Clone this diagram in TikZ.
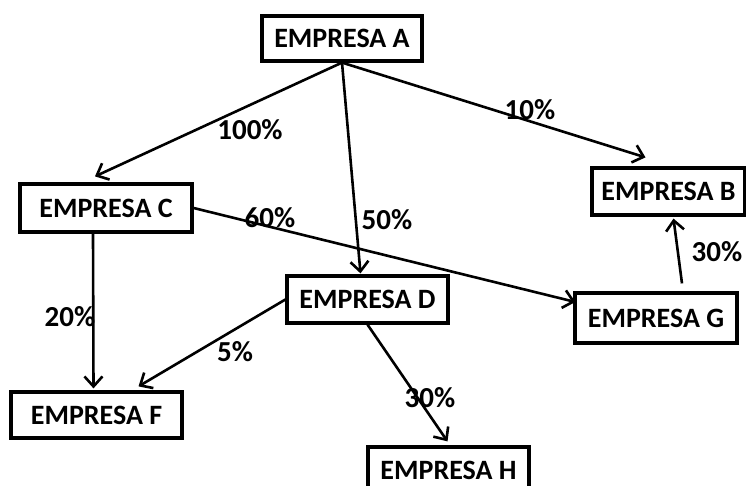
\documentclass[tikz,border=0pt]{standalone}
\usepackage{fontspec}
\setmainfont{Carlito}
\usetikzlibrary{arrows.meta,positioning}

\begin{document}
\begin{tikzpicture}[x=0.5pt,y=-0.5pt]
  % Define styles for companies and links
  \tikzset{
    empresa/.style={
      draw,
      rectangle,
      fill=white,
      inner sep=0pt,
      line width=1.6pt,
      font=\fontsize{14}{16}\selectfont\bfseries
    },
    link/.style={
      draw,
      line width=1.3pt,
      -{Straight Barb[length=5pt, width=9pt]}
    },
    pct/.style={
      inner sep=0pt,
      font=\fontsize{14.5}{16}\selectfont\bfseries
    }
  }
  \useasboundingbox (0,0) rectangle (746,486);

  % Companies: name / x / y / width / height / letter
  \foreach \nm/\x/\y/\bw/\bh/\lt in {a/342/38.5/80/22.5/A, c/106/208/86/24/C,
      b/668.5/191.5/76.5/23.5/B, g/656/318/81/25/G, d/367.5/299.5/80.5/23.5/D,
      f/96.5/415/85.5/23/F, h/448.5/470.5/80.5/23.5/H} {
    \node[empresa, minimum width=\bw pt, minimum height=\bh pt] (\nm) at (\x,\y) {EMPRESA \lt};
  }

  % Ownership links
  \draw[link] (a.south) -- ([shift={(-11,-6)}]c.north);
  \draw[link] (a.south) -- ([shift={(-7,-1)}]d.north);
  \draw[link] (a.south) -- ([shift={(-23,-9)}]b.north);
  \draw[link] (c.east) -- ([shift={(2,-16)}]g.west);
  \draw[link] ([shift={(-13,0)}]c.south) -- ([shift={(-3,-2)}]f.north);
  \draw[link] (d.west) -- ([shift={(42,-4)}]f.north);
  \draw[link] (d.south) -- ([shift={(-1,-4)}]h.north);
  \draw[link] ([shift={(26,-8)}]g.north) -- ([shift={(5,2)}]b.south);

  % Percentages
  \node[pct] (p-ac) at (250,130) {100\%};
  \node[pct] (p-ab) at (530,110) {10\%};
  \node[pct] (p-cg) at (270,218) {60\%};
  \node[pct] (p-ad) at (387,220) {50\%};
  \node[pct] (p-cf) at (70,317) {20\%};
  \node[pct] (p-df) at (235,352) {5\%};
  \node[pct] (p-dh) at (430,398) {30\%};
  \node[pct] (p-gb) at (717,252) {30\%};
\end{tikzpicture}
\end{document}
